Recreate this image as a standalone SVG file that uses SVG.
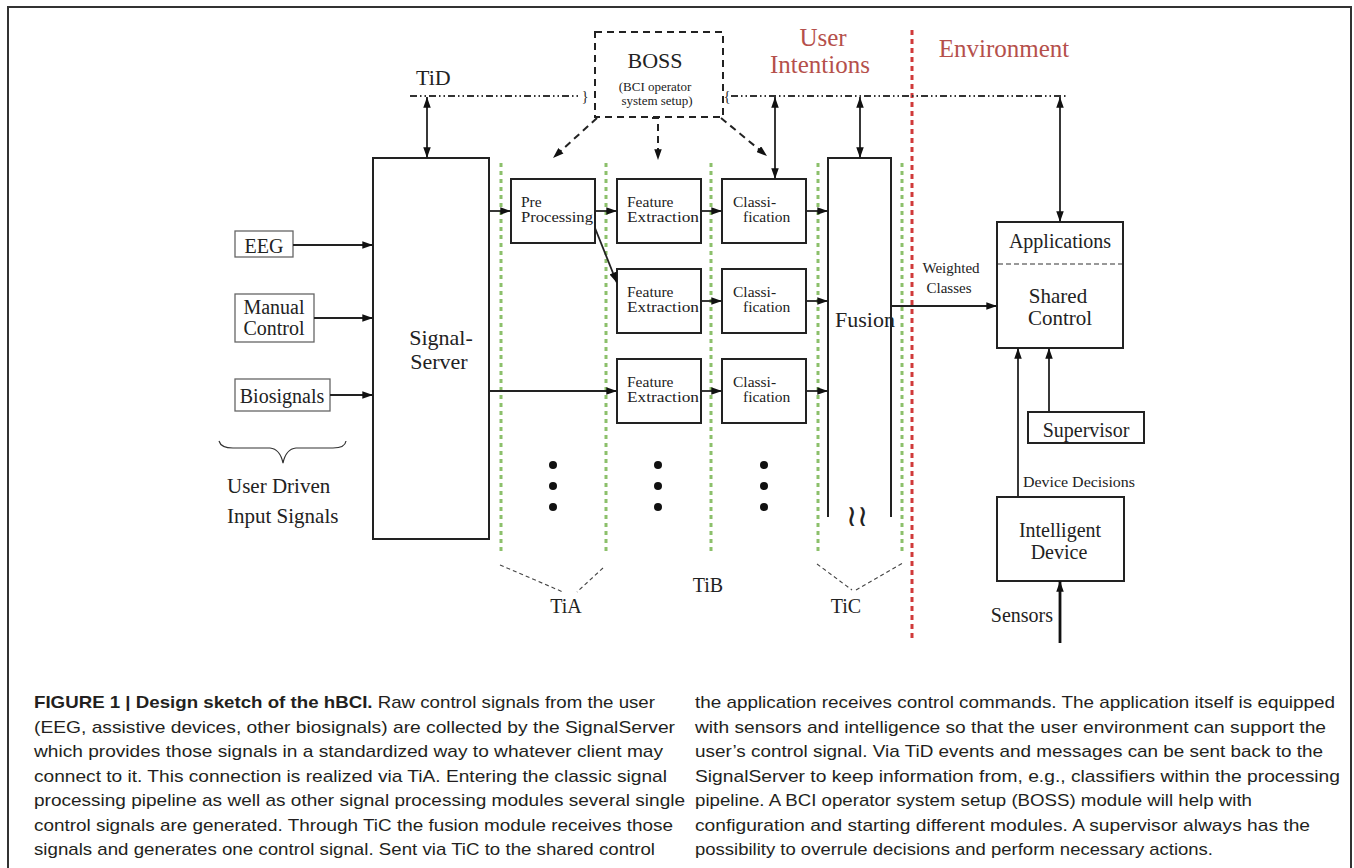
<svg xmlns="http://www.w3.org/2000/svg" width="1354" height="868" viewBox="0 0 1354 868">
<style>
.t{font-family:"Liberation Serif","DejaVu Serif",serif;fill:#222}
.red{font-family:"Liberation Serif","DejaVu Serif",serif;fill:#b5504b;font-size:25px}
.box{fill:none;stroke:#222;stroke-width:2}
.ibox{fill:none;stroke:#666;stroke-width:1.3}
.ln{fill:none;stroke:#222;stroke-width:1.8}
.arr{fill:none;stroke:#222;stroke-width:1.8;marker-end:url(#ah)}
.darr{fill:none;stroke:#222;stroke-width:1.8;marker-end:url(#ah);marker-start:url(#ah)}
.boss{fill:none;stroke:#222;stroke-width:2;stroke-dasharray:7 5}
.green{stroke:#8cc06b;stroke-width:3;stroke-dasharray:4 4;fill:none}
.redl{stroke:#d03a3a;stroke-width:3;stroke-dasharray:5 4;fill:none}
.tid{stroke:#333;stroke-width:1.8;stroke-dasharray:7 3 1.5 3 1.5 3;fill:none}
.thin{stroke:#444;stroke-width:1.1;stroke-dasharray:4 3;fill:none}
.bx{font-size:15.5px}
.cap{font-family:"Liberation Sans","Arimo",sans-serif;font-size:17px;fill:#231f20}
</style>
<defs>
<marker id="ah" viewBox="0 0 10 7" refX="10" refY="3.5" markerWidth="11" markerHeight="7.5" markerUnits="userSpaceOnUse" orient="auto-start-reverse">
<path d="M0,0 L10,3.5 L0,7 z" fill="#111"/>
</marker>
</defs>
<rect x="0" y="0" width="1354" height="868" fill="#fff"/>
<rect x="8" y="7" width="1343" height="900" fill="none" stroke="#333" stroke-width="2"/>

<g id="interfaces">
<line class="green" x1="501" y1="163" x2="501" y2="555"/>
<line class="green" x1="606" y1="163" x2="606" y2="555"/>
<line class="green" x1="711" y1="163" x2="711" y2="555"/>
<line class="green" x1="818" y1="163" x2="818" y2="555"/>
<line class="green" x1="902" y1="163" x2="902" y2="555"/>
<line class="redl" x1="912" y1="30" x2="912" y2="638"/>
<path class="tid" d="M410,96 H581"/>
<path class="tid" d="M731,96 H1068"/>
<text class="t" x="585" y="101" font-size="14" text-anchor="middle">}</text>
<text class="t" x="727" y="101" font-size="14" text-anchor="middle">{</text>
<text class="t" x="416" y="85" font-size="22">TiD</text>
<path class="thin" d="M500,565 L563,592 M603,568 L577,592"/>
<text class="t" x="566" y="613" font-size="20" text-anchor="middle">TiA</text>
<text class="t" x="708" y="592" font-size="20" text-anchor="middle">TiB</text>
<path class="thin" d="M817,564 L852,590 M856,590 L903,563"/>
<text class="t" x="846" y="613" font-size="20" text-anchor="middle">TiC</text>
<text class="red" x="823" y="46" text-anchor="middle">User</text>
<text class="red" x="820" y="73" text-anchor="middle">Intentions</text>
<text class="red" x="1004" y="57" text-anchor="middle">Environment</text>
</g>

<g id="boss">
<rect class="boss" x="595" y="32" width="128" height="85"/>
<text class="t" x="655" y="68" font-size="22" text-anchor="middle">BOSS</text>
<text class="t" x="655" y="91" font-size="13" text-anchor="middle">(BCI operator</text>
<text class="t" x="657" y="105" font-size="13" text-anchor="middle">system setup)</text>
</g>

<g id="inputs">
<rect class="ibox" x="235" y="231" width="58" height="26"/>
<text class="t" x="264" y="253" font-size="20" text-anchor="middle">EEG</text>
<rect class="ibox" x="235" y="294" width="79" height="48"/>
<text class="t" x="274" y="314" font-size="20" text-anchor="middle">Manual</text>
<text class="t" x="274" y="335" font-size="20" text-anchor="middle">Control</text>
<rect class="ibox" x="235" y="379" width="95" height="32"/>
<text class="t" x="282" y="403" font-size="20" text-anchor="middle">Biosignals</text>
<path fill="none" stroke="#333" stroke-width="1.2" d="M219,441 Q221,448 233,448 L270,448 Q280,449 283,463 Q286,449 296,448 L333,448 Q345,448 346,441"/>
<text class="t" x="227" y="493" font-size="21">User Driven</text>
<text class="t" x="227" y="523" font-size="21">Input Signals</text>
</g>

<g id="signalserver">
<rect class="box" x="373" y="158" width="116" height="381"/>
<text class="t" x="441" y="345" font-size="22" text-anchor="middle">Signal-</text>
<text class="t" x="439" y="369" font-size="22" text-anchor="middle">Server</text>
</g>

<g id="preprocessing">
<rect class="box" x="511" y="179" width="84" height="64"/>
<text class="t bx" x="521" y="207">Pre</text>
<text class="t bx" x="521" y="222" textLength="72" lengthAdjust="spacingAndGlyphs">Processing</text>
</g>

<g id="fe1">
<rect class="box" x="617" y="179" width="84" height="64"/>
<text class="t bx" x="627" y="207">Feature</text>
<text class="t bx" x="627" y="222" textLength="72" lengthAdjust="spacingAndGlyphs">Extraction</text>
</g>
<g id="fe2">
<rect class="box" x="617" y="269" width="84" height="64"/>
<text class="t bx" x="627" y="297">Feature</text>
<text class="t bx" x="627" y="312" textLength="72" lengthAdjust="spacingAndGlyphs">Extraction</text>
</g>
<g id="fe3">
<rect class="box" x="617" y="359" width="84" height="64"/>
<text class="t bx" x="627" y="387">Feature</text>
<text class="t bx" x="627" y="402" textLength="72" lengthAdjust="spacingAndGlyphs">Extraction</text>
</g>

<g id="cl1">
<rect class="box" x="722" y="179" width="84" height="64"/>
<text class="t bx" x="733" y="207">Classi-</text>
<text class="t bx" x="743" y="222">fication</text>
</g>
<g id="cl2">
<rect class="box" x="722" y="269" width="84" height="64"/>
<text class="t bx" x="733" y="297">Classi-</text>
<text class="t bx" x="743" y="312">fication</text>
</g>
<g id="cl3">
<rect class="box" x="722" y="359" width="84" height="64"/>
<text class="t bx" x="733" y="387">Classi-</text>
<text class="t bx" x="743" y="402">fication</text>
</g>

<g id="dots" fill="#111">
<circle cx="553" cy="465" r="4"/><circle cx="553" cy="486" r="4"/><circle cx="553" cy="507" r="4"/>
<circle cx="658" cy="465" r="4"/><circle cx="658" cy="486" r="4"/><circle cx="658" cy="507" r="4"/>
<circle cx="764" cy="465" r="4"/><circle cx="764" cy="486" r="4"/><circle cx="764" cy="507" r="4"/>
</g>

<g id="fusion">
<path class="box" d="M828,517 V158 H891 V517"/>
<text class="t" x="835" y="327" font-size="22">Fusion</text>
<text class="t" x="857" y="526" font-size="30" text-anchor="middle">≀≀</text>
</g>

<g id="sharedcontrol">
<rect class="box" x="997" y="222" width="126" height="126"/>
<line x1="998" y1="264" x2="1122" y2="264" stroke="#333" stroke-width="1.2" stroke-dasharray="5 3"/>
<text class="t" x="1060" y="248" font-size="20" text-anchor="middle">Applications</text>
<text class="t" x="1058" y="303" font-size="21" text-anchor="middle">Shared</text>
<text class="t" x="1060" y="325" font-size="21" text-anchor="middle">Control</text>
</g>

<g id="supervisor">
<rect class="box" x="1028" y="412" width="116" height="31"/>
<text class="t" x="1086" y="437" font-size="20" text-anchor="middle">Supervisor</text>
</g>

<g id="device">
<rect class="box" x="997" y="497" width="127" height="84"/>
<text class="t" x="1060" y="537" font-size="20" text-anchor="middle">Intelligent</text>
<text class="t" x="1059" y="559" font-size="20" text-anchor="middle">Device</text>
</g>

<g id="connectors">
<line class="arr" x1="293" y1="245" x2="373" y2="245"/>
<line class="arr" x1="314" y1="318" x2="373" y2="318"/>
<line class="arr" x1="330" y1="395" x2="373" y2="395"/>
<line class="darr" x1="427" y1="97" x2="427" y2="158"/>
<line class="darr" x1="775" y1="97" x2="775" y2="179"/>
<line class="darr" x1="860" y1="97" x2="860" y2="158"/>
<line class="darr" x1="1060" y1="97" x2="1060" y2="222"/>
<line class="arr" x1="489" y1="211" x2="511" y2="211"/>
<line class="arr" x1="489" y1="391" x2="617" y2="391"/>
<line class="arr" x1="595" y1="211" x2="617" y2="211"/>
<line class="arr" x1="595" y1="228" x2="617" y2="283"/>
<line class="arr" x1="701" y1="211" x2="722" y2="211"/>
<line class="arr" x1="701" y1="301" x2="722" y2="301"/>
<line class="arr" x1="701" y1="391" x2="722" y2="391"/>
<line class="arr" x1="806" y1="211" x2="828" y2="211"/>
<line class="arr" x1="806" y1="301" x2="828" y2="301"/>
<line class="arr" x1="806" y1="391" x2="828" y2="391"/>
<path class="boss" d="M597,118 L553,158" marker-end="url(#ah)"/>
<path class="boss" d="M652,118 H658 V160" marker-end="url(#ah)"/>
<path class="boss" d="M721,118 L767,156" marker-end="url(#ah)"/>
<line class="arr" x1="891" y1="306" x2="997" y2="306"/>
<text class="t" x="951" y="273" font-size="15" text-anchor="middle">Weighted</text>
<text class="t" x="949" y="293" font-size="15" text-anchor="middle">Classes</text>
<line class="arr" x1="1049" y1="412" x2="1049" y2="348"/>
<line class="arr" x1="1018" y1="497" x2="1018" y2="348"/>
<text class="t" x="1023" y="487" font-size="15" textLength="112" lengthAdjust="spacingAndGlyphs">Device Decisions</text>
<line x1="1060" y1="643" x2="1060" y2="581" stroke="#111" stroke-width="2.8" marker-end="url(#ah)"/>
<text class="t" x="1053" y="622" font-size="20" text-anchor="end">Sensors</text>
</g>

<g id="caption">
<text class="cap" x="34" y="708" textLength="621" lengthAdjust="spacingAndGlyphs"><tspan font-weight="bold">FIGURE 1 | Design sketch of the hBCI.</tspan> Raw control signals from the user</text>
<text class="cap" x="34" y="732.5" textLength="641" lengthAdjust="spacingAndGlyphs">(EEG, assistive devices, other biosignals) are collected by the SignalServer</text>
<text class="cap" x="34" y="757" textLength="629" lengthAdjust="spacingAndGlyphs">which provides those signals in a standardized way to whatever client may</text>
<text class="cap" x="34" y="781.5" textLength="633" lengthAdjust="spacingAndGlyphs">connect to it. This connection is realized via TiA. Entering the classic signal</text>
<text class="cap" x="34" y="806" textLength="651" lengthAdjust="spacingAndGlyphs">processing pipeline as well as other signal processing modules several single</text>
<text class="cap" x="34" y="830.5" textLength="639" lengthAdjust="spacingAndGlyphs">control signals are generated. Through TiC the fusion module receives those</text>
<text class="cap" x="34" y="855" textLength="621" lengthAdjust="spacingAndGlyphs">signals and generates one control signal. Sent via TiC to the shared control</text>
<text class="cap" x="695" y="708" textLength="640" lengthAdjust="spacingAndGlyphs">the application receives control commands. The application itself is equipped</text>
<text class="cap" x="695" y="732.5" textLength="631" lengthAdjust="spacingAndGlyphs">with sensors and intelligence so that the user environment can support the</text>
<text class="cap" x="695" y="757" textLength="628" lengthAdjust="spacingAndGlyphs">user’s control signal. Via TiD events and messages can be sent back to the</text>
<text class="cap" x="695" y="781.5" textLength="645" lengthAdjust="spacingAndGlyphs">SignalServer to keep information from, e.g., classifiers within the processing</text>
<text class="cap" x="695" y="806" textLength="557" lengthAdjust="spacingAndGlyphs">pipeline. A BCI operator system setup (BOSS) module will help with</text>
<text class="cap" x="695" y="830.5" textLength="615" lengthAdjust="spacingAndGlyphs">configuration and starting different modules. A supervisor always has the</text>
<text class="cap" x="695" y="855" textLength="518" lengthAdjust="spacingAndGlyphs">possibility to overrule decisions and perform necessary actions.</text>
</g>
</svg>
